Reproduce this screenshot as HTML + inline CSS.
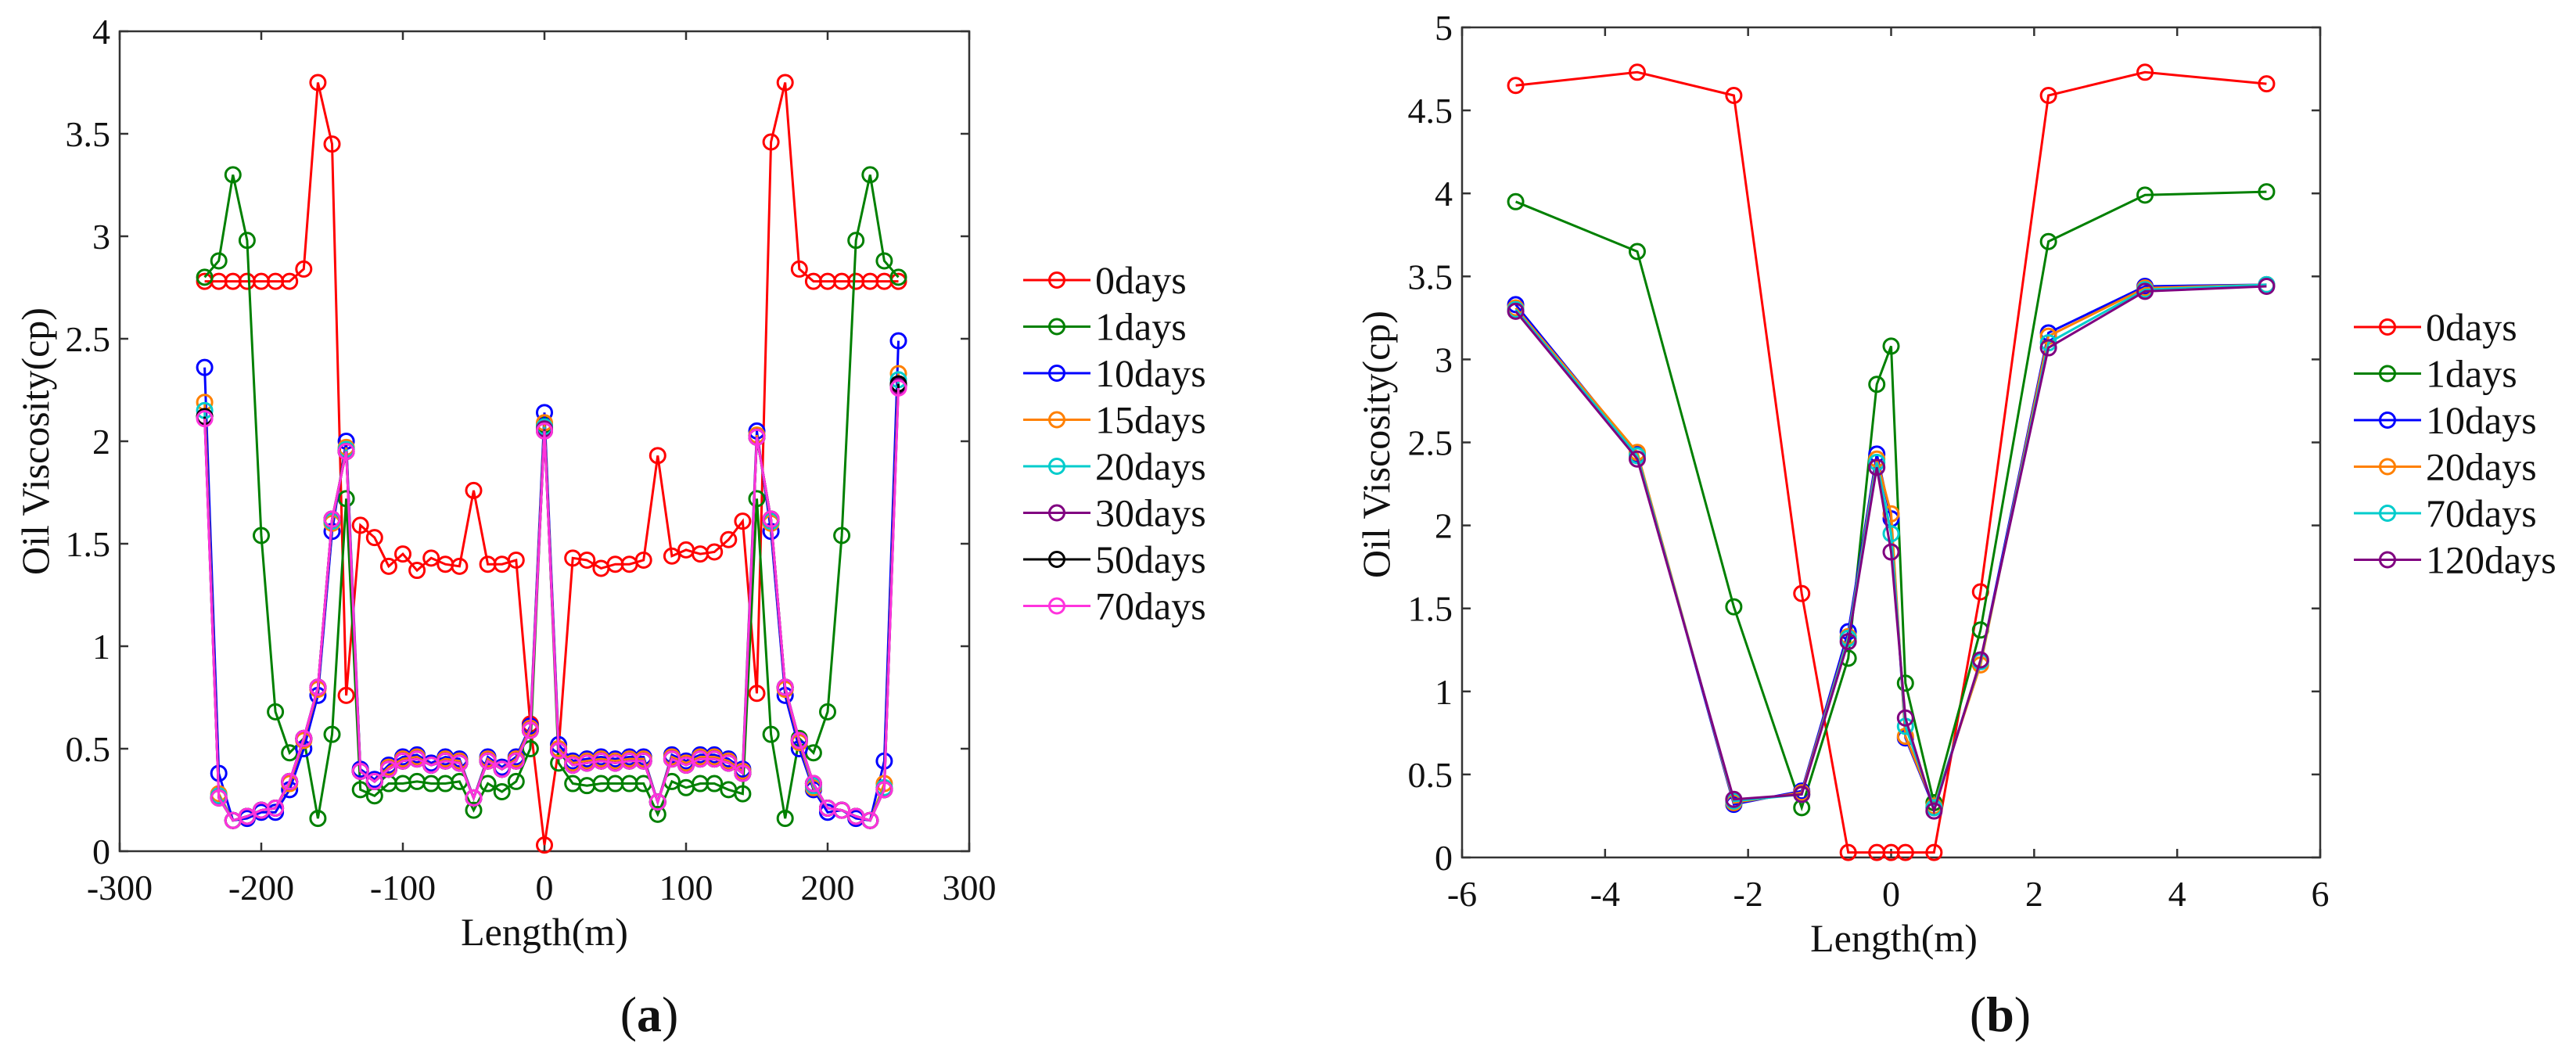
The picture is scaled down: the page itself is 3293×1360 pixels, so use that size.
<!DOCTYPE html>
<html><head><meta charset="utf-8"><style>
html,body{margin:0;padding:0;background:#fff;}
svg{display:block;}
svg text{font-family:"Liberation Serif","Times New Roman","DejaVu Serif",serif !important;fill:#111;}
</style></head><body>
<svg id="fig" width="3293" height="1360" viewBox="0 0 3293 1360" xmlns="http://www.w3.org/2000/svg" font-family="Liberation Serif, Times New Roman, serif">
<g id="pa"></g>
<g id="pb"></g>
</svg>
<script>
// ---- Chart (a) data ----
const xA = [-240,-230,-220,-210,-200,-190,-180,-170,-160,-150,-140,-130,-120,-110,-100,-90,-80,-70,-60,-50,-40,-30,-20,-10,0,10,20,30,40,50,60,70,80,90,100,110,120,130,140,150,160,170,180,190,200,210,220,230,240,250];
const a0 = [2.78,2.78,2.78,2.78,2.78,2.78,2.78,2.84,3.75,3.45,0.76,1.59,1.53,1.39,1.45,1.37,1.43,1.40,1.39,1.76,1.40,1.40,1.42,0.62,0.03,0.50,1.43,1.42,1.38,1.40,1.40,1.42,1.93,1.44,1.47,1.45,1.46,1.52,1.61,0.77,3.46,3.75,2.84,2.78,2.78,2.78,2.78,2.78,2.78,2.78];
const a1 = [2.80,2.88,3.30,2.98,1.54,0.68,0.48,0.55,0.16,0.57,1.72,0.30,0.27,0.33,0.33,0.34,0.33,0.33,0.34,0.20,0.33,0.29,0.34,0.50,2.08,0.43,0.33,0.32,0.33,0.33,0.33,0.33,0.18,0.34,0.31,0.33,0.33,0.30,0.28,1.72,0.57,0.16,0.55,0.48,0.68,1.54,2.98,3.30,2.88,2.80];
const a10 = [2.36,0.38,0.15,0.16,0.19,0.19,0.30,0.50,0.76,1.56,2.00,0.40,0.35,0.42,0.46,0.47,0.43,0.46,0.45,0.26,0.46,0.41,0.46,0.61,2.14,0.52,0.44,0.45,0.46,0.45,0.46,0.46,0.24,0.47,0.44,0.47,0.47,0.45,0.40,2.05,1.56,0.76,0.50,0.30,0.19,0.20,0.16,0.15,0.44,2.49];
const a15 = [2.19,0.28,0.15,0.17,0.20,0.21,0.33,0.54,0.79,1.60,1.97,0.39,0.34,0.41,0.45,0.46,0.42,0.45,0.44,0.26,0.45,0.40,0.45,0.60,2.09,0.50,0.43,0.44,0.45,0.44,0.45,0.45,0.24,0.46,0.43,0.46,0.46,0.44,0.39,2.03,1.60,0.79,0.53,0.31,0.21,0.20,0.17,0.15,0.33,2.33];
const a20 = [2.15,0.27,0.15,0.17,0.20,0.21,0.34,0.55,0.80,1.61,1.96,0.39,0.34,0.40,0.44,0.45,0.42,0.44,0.43,0.26,0.44,0.40,0.44,0.59,2.07,0.49,0.42,0.43,0.44,0.43,0.44,0.44,0.24,0.45,0.42,0.45,0.45,0.43,0.38,2.02,1.61,0.80,0.54,0.32,0.21,0.20,0.17,0.15,0.31,2.30];
const a30 = [2.12,0.26,0.15,0.17,0.20,0.21,0.34,0.55,0.80,1.62,1.95,0.39,0.34,0.40,0.44,0.45,0.42,0.44,0.43,0.26,0.44,0.40,0.44,0.59,2.06,0.49,0.42,0.43,0.44,0.43,0.44,0.44,0.24,0.45,0.42,0.45,0.45,0.43,0.38,2.02,1.62,0.80,0.54,0.33,0.21,0.20,0.17,0.15,0.30,2.27];
const a50 = [2.12,0.26,0.15,0.17,0.20,0.21,0.34,0.55,0.80,1.62,1.95,0.39,0.34,0.40,0.44,0.45,0.42,0.44,0.43,0.26,0.44,0.40,0.44,0.59,2.05,0.49,0.42,0.43,0.44,0.43,0.44,0.44,0.24,0.45,0.42,0.45,0.45,0.43,0.38,2.02,1.62,0.80,0.54,0.33,0.21,0.20,0.17,0.15,0.30,2.28];
const a70 = [2.11,0.26,0.15,0.17,0.20,0.21,0.34,0.55,0.80,1.62,1.95,0.39,0.34,0.40,0.44,0.45,0.42,0.44,0.43,0.26,0.44,0.40,0.44,0.59,2.05,0.49,0.42,0.43,0.44,0.43,0.44,0.44,0.24,0.45,0.42,0.45,0.45,0.43,0.38,2.02,1.62,0.80,0.54,0.33,0.21,0.20,0.17,0.15,0.30,2.26];
const namesA = ["0days","1days","10days","15days","20days","30days","50days","70days"];
const colorsA = ["#ff0000","#008000","#0000ff","#ff8000","#00cccc","#800080","#000000","#ff33dd"];
const xTicksA = [-300,-200,-100,0,100,200,300];
const yTicksA = [0,0.5,1,1.5,2,2.5,3,3.5,4];
const yTickLabelsA = ["0","0.5","1","1.5","2","2.5","3","3.5","4"];

// ---- Chart (b) data ----
const xB = [-5.25,-3.55,-2.2,-1.25,-0.6,-0.2,0,0.2,0.6,1.25,2.2,3.55,5.25];
const b0 = [4.65,4.73,4.59,1.59,0.03,0.03,0.03,0.03,0.03,1.60,4.59,4.73,4.66];
const b1 = [3.95,3.65,1.51,0.30,1.20,2.85,3.08,1.05,0.33,1.37,3.71,3.99,4.01];
const b10 = [3.33,2.43,0.32,0.40,1.36,2.43,2.04,0.72,0.30,1.18,3.16,3.44,3.45];
const b20 = [3.31,2.44,0.33,0.39,1.33,2.40,2.07,0.73,0.31,1.16,3.14,3.43,3.45];
const b70 = [3.30,2.42,0.34,0.38,1.32,2.38,1.95,0.79,0.30,1.18,3.10,3.42,3.45];
const b120 = [3.29,2.40,0.35,0.38,1.30,2.35,1.84,0.84,0.28,1.19,3.07,3.41,3.44];
const namesB = ["0days","1days","10days","20days","70days","120days"];
const colorsB = ["#ff0000","#008000","#0000ff","#ff8000","#00cccc","#800080"];
const xTicksB = [-6,-4,-2,0,2,4,6];
const yTicksB = [0,0.5,1,1.5,2,2.5,3,3.5,4,4.5,5];
const yTickLabelsB = ["0","0.5","1","1.5","2","2.5","3","3.5","4","4.5","5"];

const NS = "http://www.w3.org/2000/svg";
const FF = "'Liberation Serif','Times New Roman',serif";
function mk(parent, tag, attrs, txt){
  const e = document.createElementNS(NS, tag);
  for (const k in attrs) e.setAttribute(k, attrs[k]);
  if (tag === "text") { e.setAttribute("font-family", FF); e.style.fontFamily = FF; }
  if (txt !== undefined) e.textContent = txt;
  parent.appendChild(e);
  return e;
}

function drawChart(g, cfg){
  const {L,R,T,B,xmin,xmax,ymin,ymax,xTicks,yTicks,yLabels,xs,series,names,colors,legX,legY,xTitleX,xTitleY,yTitleX,yTitleY,tag,tagX} = cfg;
  const sx = v => L + (v - xmin) / (xmax - xmin) * (R - L);
  const sy = v => B - (v - ymin) / (ymax - ymin) * (B - T);
  const tl = 11;
  const fr = mk(g, "rect", {x:L, y:T, width:R-L, height:B-T, fill:"none", stroke:"#333", "stroke-width":2.5});
  
  
  xTicks.forEach(v => {
    const x = sx(v);
    mk(g, "line", {x1:x, y1:B, x2:x, y2:B-tl, stroke:"#333", "stroke-width":2.5});
    mk(g, "line", {x1:x, y1:T, x2:x, y2:T+tl, stroke:"#333", "stroke-width":2.5});
    const t = mk(g, "text", {x:x, y:B+62, "text-anchor":"middle", "font-size":46}, String(v));
    
    
  });
  yTicks.forEach((v,i) => {
    const y = sy(v);
    mk(g, "line", {x1:L, y1:y, x2:L+tl, y2:y, stroke:"#333", "stroke-width":2.5});
    mk(g, "line", {x1:R, y1:y, x2:R-tl, y2:y, stroke:"#333", "stroke-width":2.5});
    const t = mk(g, "text", {x:L-12, y:y+16, "text-anchor":"end", "font-size":46}, yLabels[i]);
    
    
  });
  const xt = mk(g, "text", {x:xTitleX, y:xTitleY, "text-anchor":"middle", "font-size":50}, "Length(m)");
  
  
  const yt = mk(g, "text", {x:0, y:0, "text-anchor":"middle", "font-size":50, transform:`translate(${yTitleX},${yTitleY}) rotate(-90)`}, "Oil Viscosity(cp)");
  
  
  const tg = mk(g, "text", {x:tagX, y:1318, "text-anchor":"middle", "font-size":64});
  
  
  mk(tg, "tspan", {}, "(");
  mk(tg, "tspan", {"font-weight":"bold"}, tag);
  mk(tg, "tspan", {}, ")");
  series.forEach((ys, si) => {
    const sg = mk(g, "g", {});
    
    
    const pts = xs.map((x,i) => sx(x).toFixed(1) + "," + sy(ys[i]).toFixed(1)).join(" ");
    const pl = mk(sg, "polyline", {points:pts, fill:"none", stroke:colors[si], "stroke-width":3});
    
    
    xs.forEach((x,i) => {
      const c = mk(sg, "circle", {cx:sx(x), cy:sy(ys[i]), r:9.5, fill:"none", stroke:colors[si], "stroke-width":3});
      
      
    });
  });
  const lg = mk(g, "g", {});
  
  
  names.forEach((n, i) => {
    const y = legY + i * 59.5;
    const eg = mk(lg, "g", {});
    
    
    mk(eg, "line", {x1:legX, y1:y, x2:legX+86, y2:y, stroke:colors[i], "stroke-width":3});
    mk(eg, "circle", {cx:legX+43, cy:y, r:9.5, fill:"none", stroke:colors[i], "stroke-width":3});
    mk(eg, "text", {x:legX+92, y:y+17, "font-size":50}, n);
  });
}

drawChart(document.getElementById("pa"), {
  L:153, R:1239, T:40, B:1088, xmin:-300, xmax:300, ymin:0, ymax:4,
  xTicks:xTicksA, yTicks:yTicksA, yLabels:yTickLabelsA, xs:xA,
  series:[a0,a1,a10,a15,a20,a30,a50,a70], names:namesA, colors:colorsA,
  legX:1308, legY:358, xTitleX:696, xTitleY:1208, yTitleX:62, yTitleY:564, tag:"a", tagX:830
});
drawChart(document.getElementById("pb"), {
  L:1869, R:2966, T:35, B:1096, xmin:-6, xmax:6, ymin:0, ymax:5,
  xTicks:xTicksB, yTicks:yTicksB, yLabels:yTickLabelsB, xs:xB,
  series:[b0,b1,b10,b20,b70,b120], names:namesB, colors:colorsB,
  legX:3009, legY:418, xTitleX:2421, xTitleY:1216, yTitleX:1776, yTitleY:568, tag:"b", tagX:2557
});
</script>
</body></html>
